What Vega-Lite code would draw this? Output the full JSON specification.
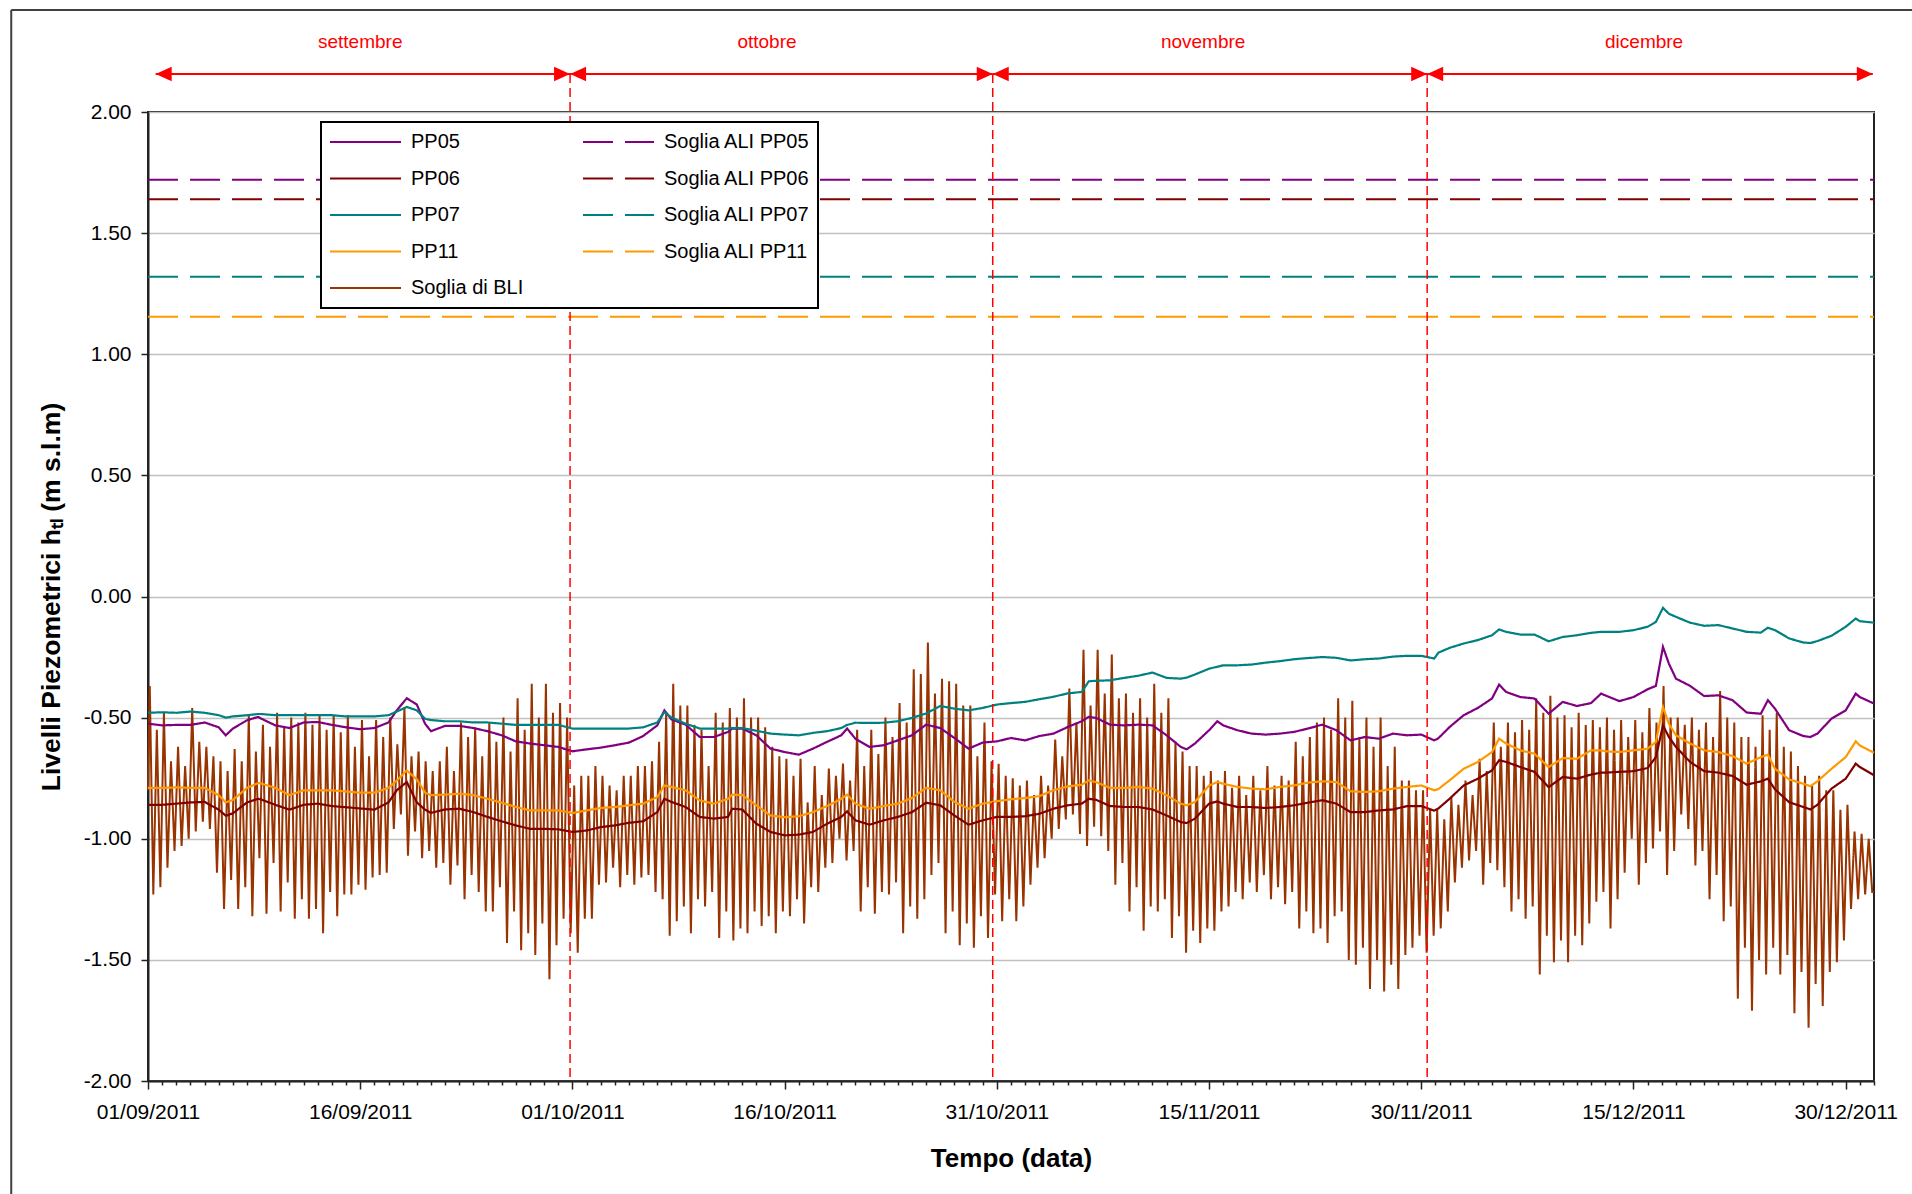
{
"$schema":"https://vega.github.io/schema/vega-lite/v6.json",
"width":1726,"height":969,
"autosize":"none",
"padding":{"left":148,"top":112,"right":38,"bottom":113},
"background":"white",
"config":{
 "view":{"stroke":"#222","strokeWidth":2},
 "font":"Liberation Sans",
 "axis":{"labelFont":"Liberation Sans","titleFont":"Liberation Sans","labelColor":"#000","titleColor":"#000","domainColor":"#222","domainWidth":2,"tickColor":"#222","tickWidth":1.5},
 "legend":{"strokeWidth":2}
},
"datasets":{
"pp":[
{"t":"2011-09-01T00:00","PP05":-0.525,"PP06":-0.86,"PP07":-0.48,"PP11":-0.79},
{"t":"2011-09-02T00:00","PP05":-0.532,"PP06":-0.86,"PP07":-0.478,"PP11":-0.79},
{"t":"2011-09-03T00:00","PP05":-0.53,"PP06":-0.855,"PP07":-0.48,"PP11":-0.788},
{"t":"2011-09-04T00:00","PP05":-0.53,"PP06":-0.85,"PP07":-0.475,"PP11":-0.79},
{"t":"2011-09-05T00:00","PP05":-0.52,"PP06":-0.848,"PP07":-0.48,"PP11":-0.79},
{"t":"2011-09-06T00:00","PP05":-0.54,"PP06":-0.88,"PP07":-0.49,"PP11":-0.82},
{"t":"2011-09-06T12:00","PP05":-0.573,"PP06":-0.905,"PP07":-0.5,"PP11":-0.85},
{"t":"2011-09-07T00:00","PP05":-0.545,"PP06":-0.895,"PP07":-0.495,"PP11":-0.84},
{"t":"2011-09-08T00:00","PP05":-0.511,"PP06":-0.85,"PP07":-0.49,"PP11":-0.79},
{"t":"2011-09-08T19:00","PP05":-0.497,"PP06":-0.835,"PP07":-0.485,"PP11":-0.77},
{"t":"2011-09-09T00:00","PP05":-0.504,"PP06":-0.838,"PP07":-0.485,"PP11":-0.772},
{"t":"2011-09-10T00:00","PP05":-0.532,"PP06":-0.86,"PP07":-0.49,"PP11":-0.79},
{"t":"2011-09-11T00:00","PP05":-0.543,"PP06":-0.88,"PP07":-0.49,"PP11":-0.82},
{"t":"2011-09-12T00:00","PP05":-0.52,"PP06":-0.86,"PP07":-0.49,"PP11":-0.8},
{"t":"2011-09-13T00:00","PP05":-0.518,"PP06":-0.855,"PP07":-0.49,"PP11":-0.8},
{"t":"2011-09-14T00:00","PP05":-0.53,"PP06":-0.865,"PP07":-0.49,"PP11":-0.8},
{"t":"2011-09-15T00:00","PP05":-0.54,"PP06":-0.87,"PP07":-0.495,"PP11":-0.805},
{"t":"2011-09-16T00:00","PP05":-0.548,"PP06":-0.875,"PP07":-0.495,"PP11":-0.81},
{"t":"2011-09-17T00:00","PP05":-0.543,"PP06":-0.88,"PP07":-0.495,"PP11":-0.81},
{"t":"2011-09-18T00:00","PP05":-0.52,"PP06":-0.85,"PP07":-0.49,"PP11":-0.79},
{"t":"2011-09-18T14:00","PP05":-0.47,"PP06":-0.8,"PP07":-0.475,"PP11":-0.76},
{"t":"2011-09-19T07:00","PP05":-0.42,"PP06":-0.766,"PP07":-0.456,"PP11":-0.718},
{"t":"2011-09-20T00:00","PP05":-0.446,"PP06":-0.85,"PP07":-0.47,"PP11":-0.755},
{"t":"2011-09-20T14:00","PP05":-0.525,"PP06":-0.88,"PP07":-0.505,"PP11":-0.81},
{"t":"2011-09-21T00:00","PP05":-0.556,"PP06":-0.893,"PP07":-0.51,"PP11":-0.82},
{"t":"2011-09-22T00:00","PP05":-0.534,"PP06":-0.879,"PP07":-0.515,"PP11":-0.818},
{"t":"2011-09-23T00:00","PP05":-0.534,"PP06":-0.876,"PP07":-0.515,"PP11":-0.814},
{"t":"2011-09-24T00:00","PP05":-0.543,"PP06":-0.89,"PP07":-0.52,"PP11":-0.82},
{"t":"2011-09-25T00:00","PP05":-0.556,"PP06":-0.91,"PP07":-0.52,"PP11":-0.835},
{"t":"2011-09-26T00:00","PP05":-0.573,"PP06":-0.928,"PP07":-0.525,"PP11":-0.851},
{"t":"2011-09-27T00:00","PP05":-0.598,"PP06":-0.945,"PP07":-0.53,"PP11":-0.869},
{"t":"2011-09-28T00:00","PP05":-0.607,"PP06":-0.959,"PP07":-0.53,"PP11":-0.883},
{"t":"2011-09-29T00:00","PP05":-0.614,"PP06":-0.959,"PP07":-0.53,"PP11":-0.883},
{"t":"2011-09-30T00:00","PP05":-0.621,"PP06":-0.961,"PP07":-0.53,"PP11":-0.883},
{"t":"2011-10-01T00:00","PP05":-0.639,"PP06":-0.972,"PP07":-0.545,"PP11":-0.894},
{"t":"2011-10-02T00:00","PP05":-0.631,"PP06":-0.966,"PP07":-0.545,"PP11":-0.883},
{"t":"2011-10-03T00:00","PP05":-0.624,"PP06":-0.952,"PP07":-0.545,"PP11":-0.873},
{"t":"2011-10-04T00:00","PP05":-0.614,"PP06":-0.945,"PP07":-0.545,"PP11":-0.869},
{"t":"2011-10-05T00:00","PP05":-0.603,"PP06":-0.934,"PP07":-0.545,"PP11":-0.862},
{"t":"2011-10-06T00:00","PP05":-0.576,"PP06":-0.928,"PP07":-0.54,"PP11":-0.855},
{"t":"2011-10-07T00:00","PP05":-0.532,"PP06":-0.89,"PP07":-0.52,"PP11":-0.828},
{"t":"2011-10-07T12:00","PP05":-0.47,"PP06":-0.835,"PP07":-0.477,"PP11":-0.78},
{"t":"2011-10-08T00:00","PP05":-0.507,"PP06":-0.848,"PP07":-0.5,"PP11":-0.786},
{"t":"2011-10-09T00:00","PP05":-0.529,"PP06":-0.869,"PP07":-0.525,"PP11":-0.8},
{"t":"2011-10-10T00:00","PP05":-0.58,"PP06":-0.91,"PP07":-0.545,"PP11":-0.842},
{"t":"2011-10-11T00:00","PP05":-0.58,"PP06":-0.917,"PP07":-0.545,"PP11":-0.855},
{"t":"2011-10-12T00:00","PP05":-0.559,"PP06":-0.91,"PP07":-0.545,"PP11":-0.835},
{"t":"2011-10-12T07:00","PP05":-0.545,"PP06":-0.876,"PP07":-0.543,"PP11":-0.818},
{"t":"2011-10-13T00:00","PP05":-0.545,"PP06":-0.879,"PP07":-0.543,"PP11":-0.82},
{"t":"2011-10-14T00:00","PP05":-0.573,"PP06":-0.938,"PP07":-0.554,"PP11":-0.862},
{"t":"2011-10-15T00:00","PP05":-0.628,"PP06":-0.972,"PP07":-0.566,"PP11":-0.904},
{"t":"2011-10-16T00:00","PP05":-0.642,"PP06":-0.986,"PP07":-0.57,"PP11":-0.911},
{"t":"2011-10-17T00:00","PP05":-0.653,"PP06":-0.983,"PP07":-0.573,"PP11":-0.907},
{"t":"2011-10-18T00:00","PP05":-0.628,"PP06":-0.972,"PP07":-0.563,"PP11":-0.89},
{"t":"2011-10-19T00:00","PP05":-0.6,"PP06":-0.938,"PP07":-0.556,"PP11":-0.865},
{"t":"2011-10-20T00:00","PP05":-0.573,"PP06":-0.91,"PP07":-0.543,"PP11":-0.835},
{"t":"2011-10-20T10:00","PP05":-0.545,"PP06":-0.887,"PP07":-0.53,"PP11":-0.818},
{"t":"2011-10-21T00:00","PP05":-0.587,"PP06":-0.924,"PP07":-0.521,"PP11":-0.855},
{"t":"2011-10-22T00:00","PP05":-0.621,"PP06":-0.942,"PP07":-0.522,"PP11":-0.876},
{"t":"2011-10-23T00:00","PP05":-0.614,"PP06":-0.924,"PP07":-0.521,"PP11":-0.865},
{"t":"2011-10-24T00:00","PP05":-0.594,"PP06":-0.91,"PP07":-0.515,"PP11":-0.855},
{"t":"2011-10-25T00:00","PP05":-0.573,"PP06":-0.89,"PP07":-0.501,"PP11":-0.832},
{"t":"2011-10-26T00:00","PP05":-0.529,"PP06":-0.851,"PP07":-0.483,"PP11":-0.79},
{"t":"2011-10-27T00:00","PP05":-0.543,"PP06":-0.862,"PP07":-0.452,"PP11":-0.8},
{"t":"2011-10-28T00:00","PP05":-0.584,"PP06":-0.904,"PP07":-0.463,"PP11":-0.848},
{"t":"2011-10-29T00:00","PP05":-0.628,"PP06":-0.942,"PP07":-0.47,"PP11":-0.876},
{"t":"2011-10-30T00:00","PP05":-0.603,"PP06":-0.924,"PP07":-0.46,"PP11":-0.855},
{"t":"2011-10-31T00:00","PP05":-0.598,"PP06":-0.91,"PP07":-0.446,"PP11":-0.845},
{"t":"2011-11-01T00:00","PP05":-0.584,"PP06":-0.91,"PP07":-0.44,"PP11":-0.837},
{"t":"2011-11-02T00:00","PP05":-0.594,"PP06":-0.907,"PP07":-0.435,"PP11":-0.832},
{"t":"2011-11-03T00:00","PP05":-0.576,"PP06":-0.897,"PP07":-0.424,"PP11":-0.824},
{"t":"2011-11-04T00:00","PP05":-0.566,"PP06":-0.876,"PP07":-0.414,"PP11":-0.8},
{"t":"2011-11-05T00:00","PP05":-0.539,"PP06":-0.862,"PP07":-0.4,"PP11":-0.784},
{"t":"2011-11-06T00:00","PP05":-0.515,"PP06":-0.855,"PP07":-0.394,"PP11":-0.777},
{"t":"2011-11-06T12:00","PP05":-0.497,"PP06":-0.835,"PP07":-0.35,"PP11":-0.759},
{"t":"2011-11-07T00:00","PP05":-0.501,"PP06":-0.839,"PP07":-0.348,"PP11":-0.766},
{"t":"2011-11-08T00:00","PP05":-0.529,"PP06":-0.865,"PP07":-0.346,"PP11":-0.79},
{"t":"2011-11-09T00:00","PP05":-0.532,"PP06":-0.869,"PP07":-0.336,"PP11":-0.79},
{"t":"2011-11-10T00:00","PP05":-0.529,"PP06":-0.869,"PP07":-0.327,"PP11":-0.786},
{"t":"2011-11-11T00:00","PP05":-0.532,"PP06":-0.879,"PP07":-0.314,"PP11":-0.793},
{"t":"2011-11-12T00:00","PP05":-0.573,"PP06":-0.904,"PP07":-0.336,"PP11":-0.821},
{"t":"2011-11-13T00:00","PP05":-0.621,"PP06":-0.931,"PP07":-0.339,"PP11":-0.855},
{"t":"2011-11-13T10:00","PP05":-0.631,"PP06":-0.935,"PP07":-0.335,"PP11":-0.862},
{"t":"2011-11-14T00:00","PP05":-0.607,"PP06":-0.917,"PP07":-0.322,"PP11":-0.848},
{"t":"2011-11-15T00:00","PP05":-0.552,"PP06":-0.855,"PP07":-0.298,"PP11":-0.78},
{"t":"2011-11-15T14:00","PP05":-0.515,"PP06":-0.846,"PP07":-0.29,"PP11":-0.766},
{"t":"2011-11-16T00:00","PP05":-0.532,"PP06":-0.855,"PP07":-0.284,"PP11":-0.773},
{"t":"2011-11-17T00:00","PP05":-0.552,"PP06":-0.869,"PP07":-0.284,"PP11":-0.786},
{"t":"2011-11-18T00:00","PP05":-0.566,"PP06":-0.869,"PP07":-0.281,"PP11":-0.793},
{"t":"2011-11-19T00:00","PP05":-0.57,"PP06":-0.873,"PP07":-0.273,"PP11":-0.796},
{"t":"2011-11-20T00:00","PP05":-0.566,"PP06":-0.869,"PP07":-0.267,"PP11":-0.786},
{"t":"2011-11-21T00:00","PP05":-0.559,"PP06":-0.862,"PP07":-0.259,"PP11":-0.78},
{"t":"2011-11-22T00:00","PP05":-0.545,"PP06":-0.851,"PP07":-0.254,"PP11":-0.768},
{"t":"2011-11-23T00:00","PP05":-0.529,"PP06":-0.841,"PP07":-0.25,"PP11":-0.763},
{"t":"2011-11-24T00:00","PP05":-0.552,"PP06":-0.855,"PP07":-0.253,"PP11":-0.766},
{"t":"2011-11-25T00:00","PP05":-0.594,"PP06":-0.89,"PP07":-0.264,"PP11":-0.804},
{"t":"2011-11-26T00:00","PP05":-0.58,"PP06":-0.89,"PP07":-0.259,"PP11":-0.807},
{"t":"2011-11-27T00:00","PP05":-0.587,"PP06":-0.883,"PP07":-0.256,"PP11":-0.804},
{"t":"2011-11-28T00:00","PP05":-0.566,"PP06":-0.879,"PP07":-0.248,"PP11":-0.793},
{"t":"2011-11-29T00:00","PP05":-0.573,"PP06":-0.865,"PP07":-0.245,"PP11":-0.786},
{"t":"2011-11-30T00:00","PP05":-0.57,"PP06":-0.865,"PP07":-0.245,"PP11":-0.78},
{"t":"2011-11-30T22:00","PP05":-0.594,"PP06":-0.884,"PP07":-0.256,"PP11":-0.8},
{"t":"2011-12-01T05:00","PP05":-0.585,"PP06":-0.875,"PP07":-0.232,"PP11":-0.795},
{"t":"2011-12-02T00:00","PP05":-0.539,"PP06":-0.835,"PP07":-0.212,"PP11":-0.759},
{"t":"2011-12-03T00:00","PP05":-0.49,"PP06":-0.78,"PP07":-0.194,"PP11":-0.711},
{"t":"2011-12-04T00:00","PP05":-0.46,"PP06":-0.752,"PP07":-0.18,"PP11":-0.683},
{"t":"2011-12-05T00:00","PP05":-0.421,"PP06":-0.718,"PP07":-0.16,"PP11":-0.642},
{"t":"2011-12-05T12:00","PP05":-0.364,"PP06":-0.676,"PP07":-0.136,"PP11":-0.587},
{"t":"2011-12-06T00:00","PP05":-0.394,"PP06":-0.683,"PP07":-0.146,"PP11":-0.607},
{"t":"2011-12-07T00:00","PP05":-0.415,"PP06":-0.704,"PP07":-0.157,"PP11":-0.635},
{"t":"2011-12-08T00:00","PP05":-0.421,"PP06":-0.724,"PP07":-0.157,"PP11":-0.649},
{"t":"2011-12-09T00:00","PP05":-0.484,"PP06":-0.787,"PP07":-0.185,"PP11":-0.704},
{"t":"2011-12-10T00:00","PP05":-0.435,"PP06":-0.745,"PP07":-0.167,"PP11":-0.667},
{"t":"2011-12-11T00:00","PP05":-0.452,"PP06":-0.752,"PP07":-0.16,"PP11":-0.67},
{"t":"2011-12-12T00:00","PP05":-0.44,"PP06":-0.735,"PP07":-0.15,"PP11":-0.635},
{"t":"2011-12-12T17:00","PP05":-0.401,"PP06":-0.727,"PP07":-0.146,"PP11":-0.635},
{"t":"2011-12-13T00:00","PP05":-0.408,"PP06":-0.727,"PP07":-0.146,"PP11":-0.639},
{"t":"2011-12-14T00:00","PP05":-0.432,"PP06":-0.724,"PP07":-0.146,"PP11":-0.642},
{"t":"2011-12-15T00:00","PP05":-0.415,"PP06":-0.721,"PP07":-0.139,"PP11":-0.635},
{"t":"2011-12-16T00:00","PP05":-0.383,"PP06":-0.708,"PP07":-0.125,"PP11":-0.628},
{"t":"2011-12-16T14:00","PP05":-0.369,"PP06":-0.663,"PP07":-0.105,"PP11":-0.6},
{"t":"2011-12-17T02:00","PP05":-0.208,"PP06":-0.532,"PP07":-0.047,"PP11":-0.456},
{"t":"2011-12-17T12:00","PP05":-0.277,"PP06":-0.58,"PP07":-0.071,"PP11":-0.525},
{"t":"2011-12-18T00:00","PP05":-0.339,"PP06":-0.621,"PP07":-0.084,"PP11":-0.573},
{"t":"2011-12-19T00:00","PP05":-0.369,"PP06":-0.683,"PP07":-0.108,"PP11":-0.607},
{"t":"2011-12-20T00:00","PP05":-0.411,"PP06":-0.721,"PP07":-0.121,"PP11":-0.635},
{"t":"2011-12-21T00:00","PP05":-0.408,"PP06":-0.727,"PP07":-0.118,"PP11":-0.642},
{"t":"2011-12-22T00:00","PP05":-0.428,"PP06":-0.741,"PP07":-0.132,"PP11":-0.659},
{"t":"2011-12-23T00:00","PP05":-0.479,"PP06":-0.777,"PP07":-0.146,"PP11":-0.69},
{"t":"2011-12-24T00:00","PP05":-0.484,"PP06":-0.763,"PP07":-0.149,"PP11":-0.663},
{"t":"2011-12-24T12:00","PP05":-0.428,"PP06":-0.752,"PP07":-0.129,"PP11":-0.653},
{"t":"2011-12-25T00:00","PP05":-0.463,"PP06":-0.796,"PP07":-0.139,"PP11":-0.711},
{"t":"2011-12-26T00:00","PP05":-0.552,"PP06":-0.849,"PP07":-0.173,"PP11":-0.755},
{"t":"2011-12-27T00:00","PP05":-0.576,"PP06":-0.869,"PP07":-0.19,"PP11":-0.773},
{"t":"2011-12-27T12:00","PP05":-0.58,"PP06":-0.879,"PP07":-0.192,"PP11":-0.783},
{"t":"2011-12-28T00:00","PP05":-0.566,"PP06":-0.86,"PP07":-0.184,"PP11":-0.763},
{"t":"2011-12-29T00:00","PP05":-0.504,"PP06":-0.793,"PP07":-0.162,"PP11":-0.711},
{"t":"2011-12-30T00:00","PP05":-0.47,"PP06":-0.752,"PP07":-0.125,"PP11":-0.663},
{"t":"2011-12-30T17:00","PP05":-0.401,"PP06":-0.69,"PP07":-0.091,"PP11":-0.598},
{"t":"2011-12-31T00:00","PP05":-0.415,"PP06":-0.704,"PP07":-0.102,"PP11":-0.615},
{"t":"2012-01-01T00:00","PP05":-0.442,"PP06":-0.738,"PP07":-0.108,"PP11":-0.645}
],
"bli":[
{"t":"2011-09-01T00:00","v":-0.8},
{"t":"2011-09-01T03:00","v":-0.37},{"t":"2011-09-01T09:00","v":-1.23},{"t":"2011-09-01T15:00","v":-0.55},{"t":"2011-09-01T21:00","v":-1.2},
{"t":"2011-09-02T03:00","v":-0.48},{"t":"2011-09-02T09:00","v":-1.12},{"t":"2011-09-02T15:00","v":-0.68},{"t":"2011-09-02T21:00","v":-1.05},
{"t":"2011-09-03T03:00","v":-0.62},{"t":"2011-09-03T09:00","v":-1.03},{"t":"2011-09-03T15:00","v":-0.7},{"t":"2011-09-03T21:00","v":-1.0},
{"t":"2011-09-04T03:00","v":-0.46},{"t":"2011-09-04T09:00","v":-0.97},{"t":"2011-09-04T15:00","v":-0.6},{"t":"2011-09-04T21:00","v":-0.93},
{"t":"2011-09-05T03:00","v":-0.62},{"t":"2011-09-05T09:00","v":-0.96},{"t":"2011-09-05T15:00","v":-0.66},{"t":"2011-09-05T21:00","v":-1.14},
{"t":"2011-09-06T03:00","v":-0.68},{"t":"2011-09-06T09:00","v":-1.29},{"t":"2011-09-06T15:00","v":-0.72},{"t":"2011-09-06T21:00","v":-1.17},
{"t":"2011-09-07T03:00","v":-0.63},{"t":"2011-09-07T09:00","v":-1.29},{"t":"2011-09-07T15:00","v":-0.68},{"t":"2011-09-07T21:00","v":-1.2},
{"t":"2011-09-08T03:00","v":-0.49},{"t":"2011-09-08T09:00","v":-1.32},{"t":"2011-09-08T15:00","v":-0.64},{"t":"2011-09-08T21:00","v":-1.08},
{"t":"2011-09-09T03:00","v":-0.53},{"t":"2011-09-09T09:00","v":-1.31},{"t":"2011-09-09T15:00","v":-0.62},{"t":"2011-09-09T21:00","v":-1.1},
{"t":"2011-09-10T03:00","v":-0.48},{"t":"2011-09-10T09:00","v":-1.3},{"t":"2011-09-10T15:00","v":-0.54},{"t":"2011-09-10T21:00","v":-1.18},
{"t":"2011-09-11T03:00","v":-0.5},{"t":"2011-09-11T09:00","v":-1.33},{"t":"2011-09-11T15:00","v":-0.52},{"t":"2011-09-11T21:00","v":-1.25},
{"t":"2011-09-12T03:00","v":-0.48},{"t":"2011-09-12T09:00","v":-1.33},{"t":"2011-09-12T15:00","v":-0.53},{"t":"2011-09-12T21:00","v":-1.29},
{"t":"2011-09-13T03:00","v":-0.49},{"t":"2011-09-13T09:00","v":-1.39},{"t":"2011-09-13T15:00","v":-0.55},{"t":"2011-09-13T21:00","v":-1.22},
{"t":"2011-09-14T03:00","v":-0.49},{"t":"2011-09-14T09:00","v":-1.32},{"t":"2011-09-14T15:00","v":-0.56},{"t":"2011-09-14T21:00","v":-1.23},
{"t":"2011-09-15T03:00","v":-0.49},{"t":"2011-09-15T09:00","v":-1.23},{"t":"2011-09-15T15:00","v":-0.62},{"t":"2011-09-15T21:00","v":-1.19},
{"t":"2011-09-16T03:00","v":-0.51},{"t":"2011-09-16T09:00","v":-1.21},{"t":"2011-09-16T15:00","v":-0.66},{"t":"2011-09-16T21:00","v":-1.16},
{"t":"2011-09-17T03:00","v":-0.51},{"t":"2011-09-17T09:00","v":-1.15},{"t":"2011-09-17T15:00","v":-0.58},{"t":"2011-09-17T21:00","v":-1.14},
{"t":"2011-09-18T03:00","v":-0.5},{"t":"2011-09-18T09:00","v":-0.96},{"t":"2011-09-18T15:00","v":-0.61},{"t":"2011-09-18T21:00","v":-0.9},
{"t":"2011-09-19T03:00","v":-0.46},{"t":"2011-09-19T09:00","v":-1.07},{"t":"2011-09-19T15:00","v":-0.66},{"t":"2011-09-19T21:00","v":-0.97},
{"t":"2011-09-20T03:00","v":-0.64},{"t":"2011-09-20T09:00","v":-1.08},{"t":"2011-09-20T15:00","v":-0.68},{"t":"2011-09-20T21:00","v":-1.05},
{"t":"2011-09-21T03:00","v":-0.72},{"t":"2011-09-21T09:00","v":-1.12},{"t":"2011-09-21T15:00","v":-0.68},{"t":"2011-09-21T21:00","v":-1.1},
{"t":"2011-09-22T03:00","v":-0.62},{"t":"2011-09-22T09:00","v":-1.19},{"t":"2011-09-22T15:00","v":-0.72},{"t":"2011-09-22T21:00","v":-1.11},
{"t":"2011-09-23T03:00","v":-0.52},{"t":"2011-09-23T09:00","v":-1.25},{"t":"2011-09-23T15:00","v":-0.58},{"t":"2011-09-23T21:00","v":-1.15},
{"t":"2011-09-24T03:00","v":-0.54},{"t":"2011-09-24T09:00","v":-1.22},{"t":"2011-09-24T15:00","v":-0.66},{"t":"2011-09-24T21:00","v":-1.3},
{"t":"2011-09-25T03:00","v":-0.52},{"t":"2011-09-25T09:00","v":-1.3},{"t":"2011-09-25T15:00","v":-0.6},{"t":"2011-09-25T21:00","v":-1.2},
{"t":"2011-09-26T03:00","v":-0.5},{"t":"2011-09-26T09:00","v":-1.43},{"t":"2011-09-26T15:00","v":-0.64},{"t":"2011-09-26T21:00","v":-1.3},
{"t":"2011-09-27T03:00","v":-0.42},{"t":"2011-09-27T09:00","v":-1.46},{"t":"2011-09-27T15:00","v":-0.55},{"t":"2011-09-27T21:00","v":-1.39},
{"t":"2011-09-28T03:00","v":-0.36},{"t":"2011-09-28T09:00","v":-1.48},{"t":"2011-09-28T15:00","v":-0.5},{"t":"2011-09-28T21:00","v":-1.35},
{"t":"2011-09-29T03:00","v":-0.36},{"t":"2011-09-29T09:00","v":-1.58},{"t":"2011-09-29T15:00","v":-0.48},{"t":"2011-09-29T21:00","v":-1.44},
{"t":"2011-09-30T03:00","v":-0.44},{"t":"2011-09-30T09:00","v":-1.33},{"t":"2011-09-30T15:00","v":-0.5},{"t":"2011-09-30T21:00","v":-1.39},
{"t":"2011-10-01T03:00","v":-0.78},{"t":"2011-10-01T09:00","v":-1.47},{"t":"2011-10-01T15:00","v":-0.74},{"t":"2011-10-01T21:00","v":-1.33},
{"t":"2011-10-02T03:00","v":-0.74},{"t":"2011-10-02T09:00","v":-1.33},{"t":"2011-10-02T15:00","v":-0.7},{"t":"2011-10-02T21:00","v":-1.19},
{"t":"2011-10-03T03:00","v":-0.74},{"t":"2011-10-03T09:00","v":-1.18},{"t":"2011-10-03T15:00","v":-0.78},{"t":"2011-10-03T21:00","v":-1.12},
{"t":"2011-10-04T03:00","v":-0.8},{"t":"2011-10-04T09:00","v":-1.2},{"t":"2011-10-04T15:00","v":-0.74},{"t":"2011-10-04T21:00","v":-1.15},
{"t":"2011-10-05T03:00","v":-0.74},{"t":"2011-10-05T09:00","v":-1.19},{"t":"2011-10-05T15:00","v":-0.7},{"t":"2011-10-05T21:00","v":-1.16},
{"t":"2011-10-06T03:00","v":-0.7},{"t":"2011-10-06T09:00","v":-1.15},{"t":"2011-10-06T15:00","v":-0.68},{"t":"2011-10-06T21:00","v":-1.22},
{"t":"2011-10-07T03:00","v":-0.6},{"t":"2011-10-07T09:00","v":-1.25},{"t":"2011-10-07T15:00","v":-0.48},{"t":"2011-10-07T21:00","v":-1.4},
{"t":"2011-10-08T03:00","v":-0.36},{"t":"2011-10-08T09:00","v":-1.34},{"t":"2011-10-08T15:00","v":-0.45},{"t":"2011-10-08T21:00","v":-1.28},
{"t":"2011-10-09T03:00","v":-0.45},{"t":"2011-10-09T09:00","v":-1.39},{"t":"2011-10-09T15:00","v":-0.53},{"t":"2011-10-09T21:00","v":-1.25},
{"t":"2011-10-10T03:00","v":-0.55},{"t":"2011-10-10T09:00","v":-1.28},{"t":"2011-10-10T15:00","v":-0.7},{"t":"2011-10-10T21:00","v":-1.22},
{"t":"2011-10-11T03:00","v":-0.48},{"t":"2011-10-11T09:00","v":-1.41},{"t":"2011-10-11T15:00","v":-0.52},{"t":"2011-10-11T21:00","v":-1.3},
{"t":"2011-10-12T03:00","v":-0.46},{"t":"2011-10-12T09:00","v":-1.42},{"t":"2011-10-12T15:00","v":-0.5},{"t":"2011-10-12T21:00","v":-1.37},
{"t":"2011-10-13T03:00","v":-0.42},{"t":"2011-10-13T09:00","v":-1.39},{"t":"2011-10-13T15:00","v":-0.5},{"t":"2011-10-13T21:00","v":-1.3},
{"t":"2011-10-14T03:00","v":-0.5},{"t":"2011-10-14T09:00","v":-1.36},{"t":"2011-10-14T15:00","v":-0.54},{"t":"2011-10-14T21:00","v":-1.32},
{"t":"2011-10-15T03:00","v":-0.62},{"t":"2011-10-15T09:00","v":-1.39},{"t":"2011-10-15T15:00","v":-0.66},{"t":"2011-10-15T21:00","v":-1.3},
{"t":"2011-10-16T03:00","v":-0.67},{"t":"2011-10-16T09:00","v":-1.32},{"t":"2011-10-16T15:00","v":-0.74},{"t":"2011-10-16T21:00","v":-1.25},
{"t":"2011-10-17T03:00","v":-0.67},{"t":"2011-10-17T09:00","v":-1.35},{"t":"2011-10-17T15:00","v":-0.85},{"t":"2011-10-17T21:00","v":-1.2},
{"t":"2011-10-18T03:00","v":-0.7},{"t":"2011-10-18T09:00","v":-1.22},{"t":"2011-10-18T15:00","v":-0.82},{"t":"2011-10-18T21:00","v":-1.12},
{"t":"2011-10-19T03:00","v":-0.71},{"t":"2011-10-19T09:00","v":-1.1},{"t":"2011-10-19T15:00","v":-0.74},{"t":"2011-10-19T21:00","v":-1.0},
{"t":"2011-10-20T03:00","v":-0.69},{"t":"2011-10-20T09:00","v":-1.09},{"t":"2011-10-20T15:00","v":-0.76},{"t":"2011-10-20T21:00","v":-1.05},
{"t":"2011-10-21T03:00","v":-0.55},{"t":"2011-10-21T09:00","v":-1.3},{"t":"2011-10-21T15:00","v":-0.7},{"t":"2011-10-21T21:00","v":-1.2},
{"t":"2011-10-22T03:00","v":-0.55},{"t":"2011-10-22T09:00","v":-1.31},{"t":"2011-10-22T15:00","v":-0.65},{"t":"2011-10-22T21:00","v":-1.22},
{"t":"2011-10-23T03:00","v":-0.5},{"t":"2011-10-23T09:00","v":-1.23},{"t":"2011-10-23T15:00","v":-0.58},{"t":"2011-10-23T21:00","v":-1.18},
{"t":"2011-10-24T03:00","v":-0.44},{"t":"2011-10-24T09:00","v":-1.39},{"t":"2011-10-24T15:00","v":-0.52},{"t":"2011-10-24T21:00","v":-1.28},
{"t":"2011-10-25T03:00","v":-0.3},{"t":"2011-10-25T09:00","v":-1.33},{"t":"2011-10-25T15:00","v":-0.32},{"t":"2011-10-25T21:00","v":-1.25},
{"t":"2011-10-26T03:00","v":-0.19},{"t":"2011-10-26T09:00","v":-1.15},{"t":"2011-10-26T15:00","v":-0.4},{"t":"2011-10-26T21:00","v":-1.1},
{"t":"2011-10-27T03:00","v":-0.34},{"t":"2011-10-27T09:00","v":-1.39},{"t":"2011-10-27T15:00","v":-0.35},{"t":"2011-10-27T21:00","v":-1.3},
{"t":"2011-10-28T03:00","v":-0.36},{"t":"2011-10-28T09:00","v":-1.44},{"t":"2011-10-28T15:00","v":-0.45},{"t":"2011-10-28T21:00","v":-1.35},
{"t":"2011-10-29T03:00","v":-0.45},{"t":"2011-10-29T09:00","v":-1.45},{"t":"2011-10-29T15:00","v":-0.66},{"t":"2011-10-29T21:00","v":-1.32},
{"t":"2011-10-30T03:00","v":-0.52},{"t":"2011-10-30T09:00","v":-1.41},{"t":"2011-10-30T15:00","v":-0.68},{"t":"2011-10-30T21:00","v":-1.23},
{"t":"2011-10-31T03:00","v":-0.69},{"t":"2011-10-31T09:00","v":-1.34},{"t":"2011-10-31T15:00","v":-0.74},{"t":"2011-10-31T21:00","v":-1.25},
{"t":"2011-11-01T03:00","v":-0.75},{"t":"2011-11-01T09:00","v":-1.34},{"t":"2011-11-01T15:00","v":-0.78},{"t":"2011-11-01T21:00","v":-1.28},
{"t":"2011-11-02T03:00","v":-0.76},{"t":"2011-11-02T09:00","v":-1.19},{"t":"2011-11-02T15:00","v":-0.82},{"t":"2011-11-02T21:00","v":-1.12},
{"t":"2011-11-03T03:00","v":-0.74},{"t":"2011-11-03T09:00","v":-1.08},{"t":"2011-11-03T15:00","v":-0.78},{"t":"2011-11-03T21:00","v":-1.0},
{"t":"2011-11-04T03:00","v":-0.59},{"t":"2011-11-04T09:00","v":-0.96},{"t":"2011-11-04T15:00","v":-0.66},{"t":"2011-11-04T21:00","v":-0.92},
{"t":"2011-11-05T03:00","v":-0.38},{"t":"2011-11-05T09:00","v":-0.9},{"t":"2011-11-05T15:00","v":-0.52},{"t":"2011-11-05T21:00","v":-0.98},
{"t":"2011-11-06T03:00","v":-0.22},{"t":"2011-11-06T09:00","v":-1.03},{"t":"2011-11-06T15:00","v":-0.45},{"t":"2011-11-06T21:00","v":-0.95},
{"t":"2011-11-07T03:00","v":-0.22},{"t":"2011-11-07T09:00","v":-0.99},{"t":"2011-11-07T15:00","v":-0.4},{"t":"2011-11-07T21:00","v":-1.05},
{"t":"2011-11-08T03:00","v":-0.24},{"t":"2011-11-08T09:00","v":-1.19},{"t":"2011-11-08T15:00","v":-0.42},{"t":"2011-11-08T21:00","v":-1.1},
{"t":"2011-11-09T03:00","v":-0.4},{"t":"2011-11-09T09:00","v":-1.3},{"t":"2011-11-09T15:00","v":-0.48},{"t":"2011-11-09T21:00","v":-1.2},
{"t":"2011-11-10T03:00","v":-0.42},{"t":"2011-11-10T09:00","v":-1.38},{"t":"2011-11-10T15:00","v":-0.5},{"t":"2011-11-10T21:00","v":-1.28},
{"t":"2011-11-11T03:00","v":-0.36},{"t":"2011-11-11T09:00","v":-1.3},{"t":"2011-11-11T15:00","v":-0.48},{"t":"2011-11-11T21:00","v":-1.25},
{"t":"2011-11-12T03:00","v":-0.42},{"t":"2011-11-12T09:00","v":-1.41},{"t":"2011-11-12T15:00","v":-0.6},{"t":"2011-11-12T21:00","v":-1.32},
{"t":"2011-11-13T03:00","v":-0.64},{"t":"2011-11-13T09:00","v":-1.47},{"t":"2011-11-13T15:00","v":-0.7},{"t":"2011-11-13T21:00","v":-1.38},
{"t":"2011-11-14T03:00","v":-0.7},{"t":"2011-11-14T09:00","v":-1.43},{"t":"2011-11-14T15:00","v":-0.74},{"t":"2011-11-14T21:00","v":-1.37},
{"t":"2011-11-15T03:00","v":-0.72},{"t":"2011-11-15T09:00","v":-1.38},{"t":"2011-11-15T15:00","v":-0.76},{"t":"2011-11-15T21:00","v":-1.3},
{"t":"2011-11-16T03:00","v":-0.72},{"t":"2011-11-16T09:00","v":-1.28},{"t":"2011-11-16T15:00","v":-0.79},{"t":"2011-11-16T21:00","v":-1.22},
{"t":"2011-11-17T03:00","v":-0.74},{"t":"2011-11-17T09:00","v":-1.25},{"t":"2011-11-17T15:00","v":-0.82},{"t":"2011-11-17T21:00","v":-1.18},
{"t":"2011-11-18T03:00","v":-0.74},{"t":"2011-11-18T09:00","v":-1.22},{"t":"2011-11-18T15:00","v":-0.8},{"t":"2011-11-18T21:00","v":-1.15},
{"t":"2011-11-19T03:00","v":-0.7},{"t":"2011-11-19T09:00","v":-1.25},{"t":"2011-11-19T15:00","v":-0.78},{"t":"2011-11-19T21:00","v":-1.2},
{"t":"2011-11-20T03:00","v":-0.74},{"t":"2011-11-20T09:00","v":-1.27},{"t":"2011-11-20T15:00","v":-0.76},{"t":"2011-11-20T21:00","v":-1.22},
{"t":"2011-11-21T03:00","v":-0.6},{"t":"2011-11-21T09:00","v":-1.37},{"t":"2011-11-21T15:00","v":-0.66},{"t":"2011-11-21T21:00","v":-1.3},
{"t":"2011-11-22T03:00","v":-0.58},{"t":"2011-11-22T09:00","v":-1.39},{"t":"2011-11-22T15:00","v":-0.52},{"t":"2011-11-22T21:00","v":-1.37},
{"t":"2011-11-23T03:00","v":-0.5},{"t":"2011-11-23T09:00","v":-1.43},{"t":"2011-11-23T15:00","v":-0.55},{"t":"2011-11-23T21:00","v":-1.32},
{"t":"2011-11-24T03:00","v":-0.42},{"t":"2011-11-24T09:00","v":-1.3},{"t":"2011-11-24T15:00","v":-0.5},{"t":"2011-11-24T21:00","v":-1.5},
{"t":"2011-11-25T03:00","v":-0.43},{"t":"2011-11-25T09:00","v":-1.52},{"t":"2011-11-25T15:00","v":-0.58},{"t":"2011-11-25T21:00","v":-1.45},
{"t":"2011-11-26T03:00","v":-0.5},{"t":"2011-11-26T09:00","v":-1.62},{"t":"2011-11-26T15:00","v":-0.62},{"t":"2011-11-26T21:00","v":-1.5},
{"t":"2011-11-27T03:00","v":-0.5},{"t":"2011-11-27T09:00","v":-1.63},{"t":"2011-11-27T15:00","v":-0.7},{"t":"2011-11-27T21:00","v":-1.52},
{"t":"2011-11-28T03:00","v":-0.62},{"t":"2011-11-28T09:00","v":-1.62},{"t":"2011-11-28T15:00","v":-0.76},{"t":"2011-11-28T21:00","v":-1.48},
{"t":"2011-11-29T03:00","v":-0.76},{"t":"2011-11-29T09:00","v":-1.45},{"t":"2011-11-29T15:00","v":-0.8},{"t":"2011-11-29T21:00","v":-1.4},
{"t":"2011-11-30T03:00","v":-0.8},{"t":"2011-11-30T09:00","v":-1.47},{"t":"2011-11-30T15:00","v":-0.88},{"t":"2011-11-30T21:00","v":-1.4},
{"t":"2011-12-01T03:00","v":-0.88},{"t":"2011-12-01T09:00","v":-1.37},{"t":"2011-12-01T15:00","v":-0.92},{"t":"2011-12-01T21:00","v":-1.3},
{"t":"2011-12-02T03:00","v":-0.83},{"t":"2011-12-02T09:00","v":-1.18},{"t":"2011-12-02T15:00","v":-0.86},{"t":"2011-12-02T21:00","v":-1.12},
{"t":"2011-12-03T03:00","v":-0.76},{"t":"2011-12-03T09:00","v":-1.09},{"t":"2011-12-03T15:00","v":-0.82},{"t":"2011-12-03T21:00","v":-1.05},
{"t":"2011-12-04T03:00","v":-0.67},{"t":"2011-12-04T09:00","v":-1.19},{"t":"2011-12-04T15:00","v":-0.72},{"t":"2011-12-04T21:00","v":-1.1},
{"t":"2011-12-05T03:00","v":-0.52},{"t":"2011-12-05T09:00","v":-1.13},{"t":"2011-12-05T15:00","v":-0.62},{"t":"2011-12-05T21:00","v":-1.2},
{"t":"2011-12-06T03:00","v":-0.52},{"t":"2011-12-06T09:00","v":-1.3},{"t":"2011-12-06T15:00","v":-0.56},{"t":"2011-12-06T21:00","v":-1.25},
{"t":"2011-12-07T03:00","v":-0.51},{"t":"2011-12-07T09:00","v":-1.33},{"t":"2011-12-07T15:00","v":-0.55},{"t":"2011-12-07T21:00","v":-1.28},
{"t":"2011-12-08T03:00","v":-0.42},{"t":"2011-12-08T09:00","v":-1.56},{"t":"2011-12-08T15:00","v":-0.48},{"t":"2011-12-08T21:00","v":-1.4},
{"t":"2011-12-09T03:00","v":-0.41},{"t":"2011-12-09T09:00","v":-1.51},{"t":"2011-12-09T15:00","v":-0.5},{"t":"2011-12-09T21:00","v":-1.42},
{"t":"2011-12-10T03:00","v":-0.49},{"t":"2011-12-10T09:00","v":-1.51},{"t":"2011-12-10T15:00","v":-0.54},{"t":"2011-12-10T21:00","v":-1.4},
{"t":"2011-12-11T03:00","v":-0.48},{"t":"2011-12-11T09:00","v":-1.44},{"t":"2011-12-11T15:00","v":-0.53},{"t":"2011-12-11T21:00","v":-1.35},
{"t":"2011-12-12T03:00","v":-0.51},{"t":"2011-12-12T09:00","v":-1.26},{"t":"2011-12-12T15:00","v":-0.54},{"t":"2011-12-12T21:00","v":-1.22},
{"t":"2011-12-13T03:00","v":-0.5},{"t":"2011-12-13T09:00","v":-1.37},{"t":"2011-12-13T15:00","v":-0.55},{"t":"2011-12-13T21:00","v":-1.25},
{"t":"2011-12-14T03:00","v":-0.51},{"t":"2011-12-14T09:00","v":-1.14},{"t":"2011-12-14T15:00","v":-0.58},{"t":"2011-12-14T21:00","v":-1.0},
{"t":"2011-12-15T03:00","v":-0.51},{"t":"2011-12-15T09:00","v":-1.19},{"t":"2011-12-15T15:00","v":-0.56},{"t":"2011-12-15T21:00","v":-1.1},
{"t":"2011-12-16T03:00","v":-0.46},{"t":"2011-12-16T09:00","v":-1.04},{"t":"2011-12-16T15:00","v":-0.52},{"t":"2011-12-16T21:00","v":-0.97},
{"t":"2011-12-17T03:00","v":-0.37},{"t":"2011-12-17T09:00","v":-1.15},{"t":"2011-12-17T15:00","v":-0.5},{"t":"2011-12-17T21:00","v":-1.05},
{"t":"2011-12-18T03:00","v":-0.5},{"t":"2011-12-18T09:00","v":-0.9},{"t":"2011-12-18T15:00","v":-0.53},{"t":"2011-12-18T21:00","v":-0.96},
{"t":"2011-12-19T03:00","v":-0.5},{"t":"2011-12-19T09:00","v":-1.11},{"t":"2011-12-19T15:00","v":-0.55},{"t":"2011-12-19T21:00","v":-1.05},
{"t":"2011-12-20T03:00","v":-0.52},{"t":"2011-12-20T09:00","v":-1.25},{"t":"2011-12-20T15:00","v":-0.58},{"t":"2011-12-20T21:00","v":-1.15},
{"t":"2011-12-21T03:00","v":-0.39},{"t":"2011-12-21T09:00","v":-1.34},{"t":"2011-12-21T15:00","v":-0.5},{"t":"2011-12-21T21:00","v":-1.28},
{"t":"2011-12-22T03:00","v":-0.52},{"t":"2011-12-22T09:00","v":-1.66},{"t":"2011-12-22T15:00","v":-0.58},{"t":"2011-12-22T21:00","v":-1.45},
{"t":"2011-12-23T03:00","v":-0.58},{"t":"2011-12-23T09:00","v":-1.71},{"t":"2011-12-23T15:00","v":-0.62},{"t":"2011-12-23T21:00","v":-1.5},
{"t":"2011-12-24T03:00","v":-0.49},{"t":"2011-12-24T09:00","v":-1.56},{"t":"2011-12-24T15:00","v":-0.55},{"t":"2011-12-24T21:00","v":-1.45},
{"t":"2011-12-25T03:00","v":-0.48},{"t":"2011-12-25T09:00","v":-1.56},{"t":"2011-12-25T15:00","v":-0.62},{"t":"2011-12-25T21:00","v":-1.48},
{"t":"2011-12-26T03:00","v":-0.64},{"t":"2011-12-26T09:00","v":-1.72},{"t":"2011-12-26T15:00","v":-0.7},{"t":"2011-12-26T21:00","v":-1.55},
{"t":"2011-12-27T03:00","v":-0.74},{"t":"2011-12-27T09:00","v":-1.78},{"t":"2011-12-27T15:00","v":-0.78},{"t":"2011-12-27T21:00","v":-1.6},
{"t":"2011-12-28T03:00","v":-0.74},{"t":"2011-12-28T09:00","v":-1.69},{"t":"2011-12-28T15:00","v":-0.8},{"t":"2011-12-28T21:00","v":-1.55},
{"t":"2011-12-29T03:00","v":-0.8},{"t":"2011-12-29T09:00","v":-1.51},{"t":"2011-12-29T15:00","v":-0.88},{"t":"2011-12-29T21:00","v":-1.42},
{"t":"2011-12-30T03:00","v":-0.86},{"t":"2011-12-30T09:00","v":-1.29},{"t":"2011-12-30T15:00","v":-0.97},{"t":"2011-12-30T21:00","v":-1.25},
{"t":"2011-12-31T03:00","v":-0.98},{"t":"2011-12-31T09:00","v":-1.23},{"t":"2011-12-31T15:00","v":-1.0},{"t":"2011-12-31T21:00","v":-1.22},
{"t":"2012-01-01T00:00","v":-1.22}
],
"ali":[
{"t":"2011-09-01T00:00","s":"Soglia ALI PP05","v":1.72},{"t":"2012-01-01T00:00","s":"Soglia ALI PP05","v":1.72},
{"t":"2011-09-01T00:00","s":"Soglia ALI PP06","v":1.64},{"t":"2012-01-01T00:00","s":"Soglia ALI PP06","v":1.64},
{"t":"2011-09-01T00:00","s":"Soglia ALI PP07","v":1.32},{"t":"2012-01-01T00:00","s":"Soglia ALI PP07","v":1.32},
{"t":"2011-09-01T00:00","s":"Soglia ALI PP11","v":1.155},{"t":"2012-01-01T00:00","s":"Soglia ALI PP11","v":1.155}
],
"months":[
{"m":"settembre","a":"2011-09-01T13:00","b":"2011-09-30T20:00","mid":"2011-09-16T00:00"},
{"m":"ottobre","a":"2011-09-30T20:00","b":"2011-10-30T17:00","mid":"2011-10-14T18:00"},
{"m":"novembre","a":"2011-10-30T17:00","b":"2011-11-30T10:00","mid":"2011-11-14T14:00"},
{"m":"dicembre","a":"2011-11-30T10:00","b":"2011-12-31T22:00","mid":"2011-12-15T18:00"}
],
"bounds":[{"t":"2011-09-30T20:00"},{"t":"2011-10-30T17:00"},{"t":"2011-11-30T10:00"}]
},
"layer":[
{"data":{"name":"bli"},
 "mark":{"type":"line","strokeWidth":2},
 "encoding":{
  "x":{"field":"t","type":"temporal",
   "scale":{"domain":[{"year":2011,"month":9,"date":1},{"year":2012,"month":1,"date":1}],"nice":false},
   "axis":{"title":"Tempo (data)","titleFontSize":26,"titleFontWeight":"bold","titlePadding":23,
    "tickCount":{"interval":"day","step":1},
    "labelExpr":"round((time(datum.value) - time(datetime(2011,8,1)))/864e5) % 15 == 0 ? timeFormat(datum.value, '%d/%m/%Y') : ''",
    "labelOverlap":false,"labelBound":false,"labelFlush":false,"labelFontSize":21,"labelPadding":12,"grid":false,
    "tickSize":{"condition":{"test":"round((time(datum.value) - time(datetime(2011,8,1)))/864e5) % 15 == 0","value":8},"value":4}}},
  "y":{"field":"v","type":"quantitative",
   "scale":{"domain":[-2,2],"nice":false,"zero":false},
   "axis":{"title":"Livelli Piezometrici hₜₗ (m s.l.m)","titleFontSize":26.5,"titleFontWeight":"bold","titlePadding":18,
    "values":[-2,-1.5,-1,-0.5,0,0.5,1,1.5,2],
    "labelExpr":"replace(format(datum.value,'.2f'),'\u2212','-')",
    "labelFontSize":21,"labelPadding":10,"tickSize":7,"grid":true,"gridColor":"#c0c0c0","gridWidth":1.5}},
  "color":{"datum":"Soglia di BLI","title":null,
   "scale":{"domain":["PP05","PP06","PP07","PP11","Soglia di BLI","Soglia ALI PP05","Soglia ALI PP06","Soglia ALI PP07","Soglia ALI PP11"],
    "range":["#800080","#800000","#008080","#ff9900","#993300","#800080","#800000","#008080","#ff9900"]},
   "legend":{"title":null,"orient":"none","legendX":173,"legendY":10,"direction":"vertical","columns":2,"symbolType":"stroke","symbolSize":5041,"symbolStrokeWidth":2,"labelFont":"Liberation Sans","labelFontSize":20,"labelColor":"#000","labelOffset":9,"labelLimit":400,"fillColor":"#fff","strokeColor":"#000","padding":8,"rowPadding":12.5,"columnPadding":58,"clipHeight":24}},
  "strokeDash":{"datum":"Soglia di BLI","title":null,
   "scale":{"domain":["PP05","PP06","PP07","PP11","Soglia di BLI","Soglia ALI PP05","Soglia ALI PP06","Soglia ALI PP07","Soglia ALI PP11"],
    "range":[[1,0],[1,0],[1,0],[1,0],[1,0],[30,12],[30,12],[30,12],[30,12]]},
   "legend":{"title":null,"orient":"none","legendX":173,"legendY":10,"direction":"vertical","columns":2,"symbolType":"stroke","symbolSize":5041,"symbolStrokeWidth":2,"labelFont":"Liberation Sans","labelFontSize":20,"labelColor":"#000","labelOffset":9,"labelLimit":400,"fillColor":"#fff","strokeColor":"#000","padding":8,"rowPadding":12.5,"columnPadding":58,"clipHeight":24}}
 }},
{"data":{"name":"pp"},
 "transform":[{"fold":["PP05","PP06","PP07","PP11"],"as":["s","v"]}],
 "mark":{"type":"line","strokeWidth":2.2},
 "encoding":{
  "x":{"field":"t","type":"temporal"},
  "y":{"field":"v","type":"quantitative"},
  "color":{"field":"s","type":"nominal","title":null,
   "legend":{"title":null,"orient":"none","legendX":173,"legendY":10,"direction":"vertical","columns":2,"symbolType":"stroke","symbolSize":5041,"symbolStrokeWidth":2,"labelFont":"Liberation Sans","labelFontSize":20,"labelColor":"#000","labelOffset":9,"labelLimit":400,"fillColor":"#fff","strokeColor":"#000","padding":8,"rowPadding":12.5,"columnPadding":58,"clipHeight":24}},
  "strokeDash":{"field":"s","type":"nominal","title":null,
   "legend":{"title":null,"orient":"none","legendX":173,"legendY":10,"direction":"vertical","columns":2,"symbolType":"stroke","symbolSize":5041,"symbolStrokeWidth":2,"labelFont":"Liberation Sans","labelFontSize":20,"labelColor":"#000","labelOffset":9,"labelLimit":400,"fillColor":"#fff","strokeColor":"#000","padding":8,"rowPadding":12.5,"columnPadding":58,"clipHeight":24}}
 }},
{"data":{"name":"ali"},
 "mark":{"type":"line","strokeWidth":2},
 "encoding":{
  "x":{"field":"t","type":"temporal"},
  "y":{"field":"v","type":"quantitative"},
  "color":{"field":"s","type":"nominal","title":null,
   "legend":{"title":null,"orient":"none","legendX":173,"legendY":10,"direction":"vertical","columns":2,"symbolType":"stroke","symbolSize":5041,"symbolStrokeWidth":2,"labelFont":"Liberation Sans","labelFontSize":20,"labelColor":"#000","labelOffset":9,"labelLimit":400,"fillColor":"#fff","strokeColor":"#000","padding":8,"rowPadding":12.5,"columnPadding":58,"clipHeight":24}},
  "strokeDash":{"field":"s","type":"nominal","title":null,
   "legend":{"title":null,"orient":"none","legendX":173,"legendY":10,"direction":"vertical","columns":2,"symbolType":"stroke","symbolSize":5041,"symbolStrokeWidth":2,"labelFont":"Liberation Sans","labelFontSize":20,"labelColor":"#000","labelOffset":9,"labelLimit":400,"fillColor":"#fff","strokeColor":"#000","padding":8,"rowPadding":12.5,"columnPadding":58,"clipHeight":24}}
 }},
{"data":{"name":"bounds"},
 "mark":{"type":"rule","color":"#ff0000","strokeWidth":1.5,"strokeDash":[9,5],"clip":false},
 "encoding":{
  "x":{"field":"t","type":"temporal"},
  "y":{"datum":2.157,"type":"quantitative"},
  "y2":{"datum":-2}
 }},
{"data":{"name":"months"},
 "mark":{"type":"rule","color":"#ff0000","strokeWidth":2,"clip":false},
 "encoding":{
  "x":{"field":"a","type":"temporal"},
  "x2":{"field":"b"},
  "y":{"datum":2.157,"type":"quantitative"}
 }},
{"data":{"name":"months"},
 "mark":{"type":"point","shape":"M0,0L2,-0.9L2,0.9Z","filled":true,"color":"#ff0000","size":256,"opacity":1,"strokeWidth":0,"clip":false},
 "encoding":{
  "x":{"field":"a","type":"temporal"},
  "y":{"datum":2.157,"type":"quantitative"}
 }},
{"data":{"name":"months"},
 "mark":{"type":"point","shape":"M0,0L-2,-0.9L-2,0.9Z","filled":true,"color":"#ff0000","size":256,"opacity":1,"strokeWidth":0,"clip":false},
 "encoding":{
  "x":{"field":"b","type":"temporal"},
  "y":{"datum":2.157,"type":"quantitative"}
 }},
{"data":{"name":"months"},
 "mark":{"type":"text","color":"#ff0000","fontSize":19,"font":"Liberation Sans","baseline":"middle","align":"center","clip":false},
 "encoding":{
  "x":{"field":"mid","type":"temporal"},
  "y":{"datum":2.29,"type":"quantitative"},
  "text":{"field":"m"}
 }},
{"data":{"values":[{}]},
 "mark":{"type":"rule","color":"#404040","strokeWidth":2,"clip":false},
 "encoding":{
  "x":{"datum":{"year":2011,"month":8,"date":22,"hours":8},"type":"temporal"},
  "y":{"datum":2.421,"type":"quantitative"},
  "y2":{"datum":-2.7}
 }},
{"data":{"values":[{}]},
 "mark":{"type":"rule","color":"#404040","strokeWidth":2,"clip":false},
 "encoding":{
  "x":{"datum":{"year":2011,"month":8,"date":22,"hours":8},"type":"temporal"},
  "x2":{"datum":{"year":2012,"month":1,"date":8}},
  "y":{"datum":2.421,"type":"quantitative"}
 }}
]
}
